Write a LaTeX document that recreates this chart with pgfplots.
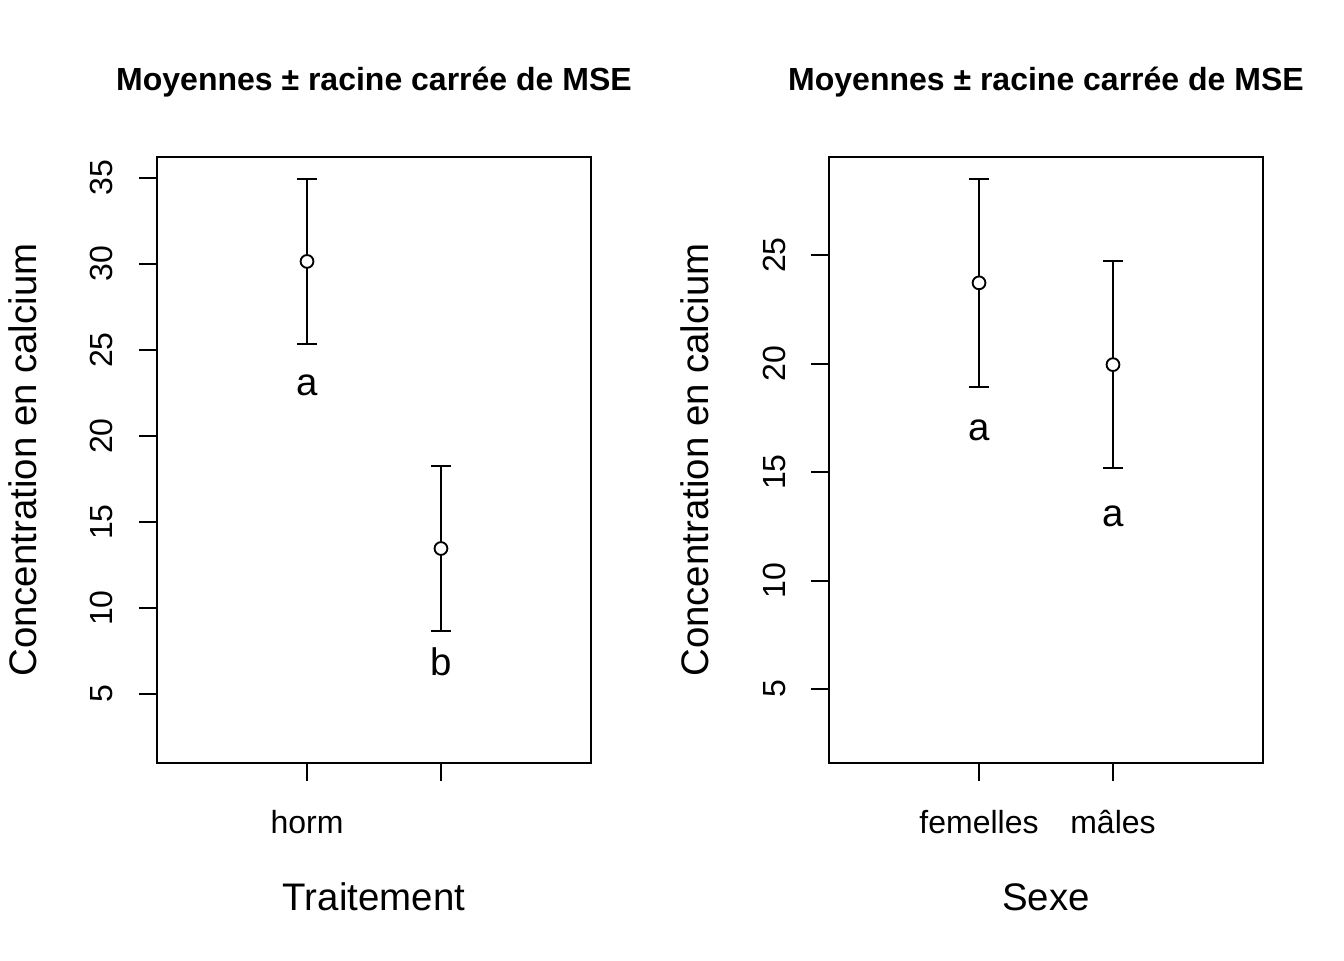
\documentclass[border=0pt]{standalone}
\usepackage{fontspec}
\setmainfont{Liberation Sans}
\usepackage{pgfplots}
\pgfplotsset{compat=1.18}
\usepackage{pgfplotstable}

% means and +/- sqrt(MSE)
\pgfplotstableread{
x y err
1 30.15 4.79
2 13.46 4.79
}\traitdata
\pgfplotstableread{
x y err
1 23.72 4.79
2 19.95 4.78
}\sexedata

\pgfplotsset{
  rpanel/.style={
    width=162.75pt, height=227.25pt, scale only axis,
    anchor=south west,
    xmin=-0.12, xmax=3.12,
    xtick={1,2},
    axis line style={line width=0.75pt},
    every tick/.style={line width=0.75pt, black},
    tick align=outside,
    major tick length=6.75pt,
    xtick pos=bottom, ytick pos=left,
    /pgf/number format/assume math mode=true,
    tick label style={font=\fontsize{12}{14}\selectfont},
    xticklabel style={anchor=base},
    yticklabel style={rotate=90, anchor=base},
    xticklabel shift=19.5pt,
    yticklabel shift=9.75pt,
    title style={at={(axis description cs:0.5,1.0837)}, anchor=base,
      font=\bfseries\fontsize{12}{14}\selectfont},
    xlabel style={at={(axis description cs:0.5,-0.2426)}, anchor=base,
      font=\fontsize{14.4}{17}\selectfont},
    ylabel style={at={(axis description cs:-0.2765,0.5)}, anchor=base,
      font=\fontsize{14.4}{17}\selectfont},
    title={Moyennes ± racine carrée de MSE},
    ylabel={Concentration en calcium},
  },
  rci/.style={black, line width=0.75pt, only marks, mark=*, mark size=2.4pt,
    mark options={fill=white, line width=0.7pt},
    error bars/.cd, y dir=both, y explicit,
    error bar style={line width=0.75pt, black},
    error mark options={rotate=90, mark size=3.75pt, line width=0.75pt, black}},
}

\begin{document}
\begin{tikzpicture}
\useasboundingbox (0,0) rectangle (504pt,360pt);

\begin{axis}[rpanel,
  at={(58.875pt,73.875pt)},
  ymin=0.99, ymax=36.22,
  ytick={5,10,15,20,25,30,35},
  xticklabels={horm,{}},
  xlabel={Traitement},
]
\addplot[rci] table[x=x, y=y, y error=err] {\traitdata};
\node[anchor=base, font=\fontsize{14.4}{17}\selectfont] at (axis cs:1,22.38) {a};
\node[anchor=base, font=\fontsize{14.4}{17}\selectfont] at (axis cs:2,6.1) {b};
\end{axis}

\begin{axis}[rpanel,
  at={(310.875pt,73.875pt)},
  ymin=1.59, ymax=29.52,
  ytick={5,10,15,20,25},
  xticklabels={femelles,mâles},
  xlabel={Sexe},
]
\addplot[rci] table[x=x, y=y, y error=err] {\sexedata};
\node[anchor=base, font=\fontsize{14.4}{17}\selectfont] at (axis cs:1,16.47) {a};
\node[anchor=base, font=\fontsize{14.4}{17}\selectfont] at (axis cs:2,12.48) {a};
\end{axis}
\end{tikzpicture}
\end{document}
